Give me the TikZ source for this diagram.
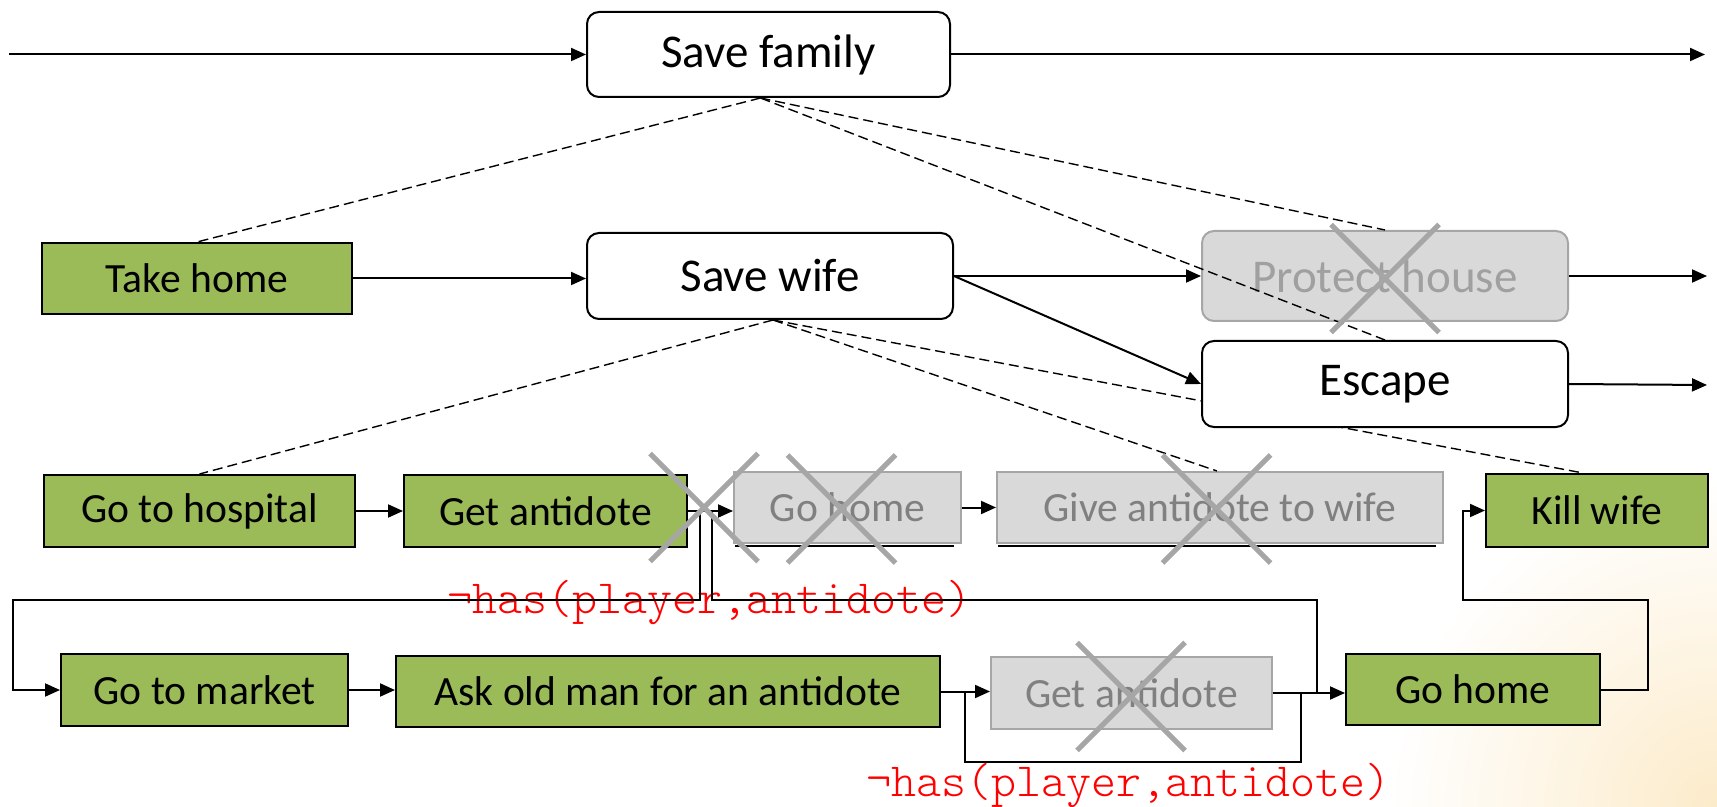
\documentclass[tikz,border=0pt]{standalone}
\usepackage{fontspec}
\setmainfont{Carlito}
\newfontfamily\condfont{Latin Modern Mono Light}
\usetikzlibrary{arrows.meta,calc}
\definecolor{leafgreen}{HTML}{9BBB59}
\definecolor{dropfill}{HTML}{D9D9D9}
\definecolor{dropline}{HTML}{A6A6A6}
\definecolor{droptext}{HTML}{808080}
\definecolor{fadedtext}{HTML}{A0A0A0}
\definecolor{glow}{RGB}{252,235,202}

\begin{document}
\begin{tikzpicture}[x=0.5pt,y=-0.5pt,
  goalbox/.style={draw=black,line width=1pt,fill=white,rounded corners=6pt,
    inner sep=0pt,font=\fontsize{23.5pt}{28pt}\selectfont},
  taskbox/.style={draw=black,line width=1pt,fill=leafgreen,inner sep=0pt,
    font=\fontsize{20.8pt}{25pt}\selectfont},
  droppedgoal/.style={goalbox,draw=dropline,fill=dropfill,text=fadedtext},
  droppedtask/.style={taskbox,draw=dropline,fill=dropfill,text=droptext},
  flow/.style={line width=1pt,-{Triangle[length=7.5pt,width=6.5pt]}},
  link/.style={line width=1pt},
  decomp/.style={line width=0.7pt,dash pattern=on 5pt off 2.5pt},
  cond/.style={text=red,inner sep=0pt,anchor=base,
    font=\condfont\fontsize{23.8pt}{28pt}\selectfont},
  strike/.style={draw=dropline,line width=2.6pt},
]
\useasboundingbox (0,0) rectangle (1717,807);

% soft glow in the lower right corner
\begin{scope}
  \clip (0,0) rectangle (1717,807);
  \shade[inner color=glow,outer color=white] (1717,807) circle (330);
\end{scope}

% goal hierarchy
\node[goalbox,minimum width=181.5pt,minimum height=42.5pt] (family) at (768.5,54.5) {Save family};
\node[taskbox,minimum width=155pt,minimum height=35.5pt] (takehome) at (197,278.5) {Take home};
\node[goalbox,minimum width=183pt,minimum height=43pt] (wife) at (770,276) {Save wife};
\node[droppedgoal,minimum width=183pt,minimum height=45pt] (protect) at (1385,276) {Protect house};

% third row
\node[taskbox,minimum width=155.5pt,minimum height=36pt] (hospital) at (199.5,511) {Go to hospital};
\node[taskbox,minimum width=141.5pt,minimum height=36pt] (antidoteA) at (545.5,511) {Get antidote};
\node[droppedtask,minimum width=113.5pt,minimum height=35.5pt] (homeA) at (847.5,507.5) {Go home};
\node[droppedtask,minimum width=223pt,minimum height=35.5pt] (give) at (1220,507.5) {Give antidote to wife};
\node[taskbox,minimum width=111pt,minimum height=36.5pt] (kill) at (1597,510.5) {Kill wife};

% fourth row
\node[taskbox,minimum width=143.5pt,minimum height=36pt] (market) at (204.5,690) {Go to market};
\node[taskbox,minimum width=272pt,minimum height=35.5pt] (ask) at (668,691.5) {Ask old man for an antidote};
\node[droppedtask,minimum width=140.5pt,minimum height=36pt] (antidoteB) at (1131.5,693) {Get antidote};
\node[taskbox,minimum width=127pt,minimum height=35.5pt] (homeB) at (1473,689.5) {Go home};

% shadow edges under the dropped steps of the third row
\draw[link] ([xshift=1pt,yshift=-0.8pt]homeA.south west) -- ([xshift=-4pt,yshift=-0.8pt]homeA.south east);
\draw[link] ([xshift=1pt,yshift=-0.8pt]give.south west) -- ([xshift=-4pt,yshift=-0.8pt]give.south east);

% decomposition link running behind the Escape box
\draw[decomp] ([xshift=1.5pt]wife.south) -- ([xshift=-7pt]kill.north);

\node[goalbox,minimum width=183pt,minimum height=43pt] (escape) at (1385,384) {Escape};

% remaining decomposition links
\draw[decomp] ([xshift=-4pt]family.south) -- (takehome.north);
\draw[decomp] ([xshift=-4pt]family.south) -- (protect.north);
\draw[decomp] ([xshift=-4pt]family.south) -- (escape.north);
\draw[decomp] ([xshift=1.5pt]wife.south) -- (hospital.north);
\draw[decomp] ([xshift=1.5pt]wife.south) -- ([xshift=-1.5pt]give.north);

% condition labels
\node[cond] (condA) at (709.5,613) {¬has(player,antidote)};
\node[cond] (condB) at (1128.5,796) {¬has(player,antidote)};

% top level flow
\coordinate (inTop) at (9,54.5);
\coordinate (outTop) at (1705,54.5);
\coordinate (outProtect) at (1707,276);
\coordinate (outEscape) at (1707,385);
\draw[flow] (inTop) -- (family.west);
\draw[flow] (family.east) -- (outTop);

% second level flow
\draw[flow] (takehome.east) -- (takehome.east -| wife.west);
\draw[flow] (wife.east) -- (protect.west);
\draw[flow] (wife.east) -- (escape.west);
\draw[flow] (protect.east) -- (outProtect);
\draw[flow] (escape.east) -- (outEscape);

% third row flow
\draw[flow] (hospital.east) -- (hospital.east -| antidoteA.west);
\draw[flow] (antidoteA.east) -- (antidoteA.east -| homeA.west);
\draw[flow] (homeA.east) -- (give.west);

% branch when the antidote is missing
\coordinate (splitL) at (700,510);
\coordinate (splitR) at (712,510);
\coordinate (loopLeft) at (13,600);
\coordinate (loopRight) at (1317,600);
\coordinate (joinHome) at (1317,693);
\draw[flow] (splitL) -- (splitL |- loopLeft) -- (loopLeft) |- (market.west);
\draw[link] (splitR) -- (splitR |- loopRight) -- (loopRight) -- (joinHome);

% fourth row flow
\draw[flow] (market.east) -- (market.east -| ask.west);
\draw[flow] (ask.east) -- (ask.east -| antidoteB.west);
\draw[flow] (antidoteB.east) -- (antidoteB.east -| homeB.west);

% bypass around the second antidote step
\coordinate (bypassIn) at (965,693);
\coordinate (bypassDown) at (965,762);
\coordinate (bypassOut) at (1301,693);
\draw[link] (bypassIn) -- (bypassDown) -| (bypassOut);

% from going home to the last step
\coordinate (killRise) at (1648,600);
\coordinate (killEntry) at (1463,600);
\draw[flow] (homeB.east) -| (killRise) -- (killEntry) |- (kill.west);

% crossed-out steps
\newcommand\crossmark[1]{\draw[strike] (#1) ++(-54,-54) -- ++(108,108) ++(0,-108) -- ++(-108,108);}
\crossmark{1385,278.5}
\crossmark{704,507.5}
\crossmark{841.5,509}
\crossmark{1216.5,509}
\crossmark{1131,696.5}
\end{tikzpicture}
\end{document}
